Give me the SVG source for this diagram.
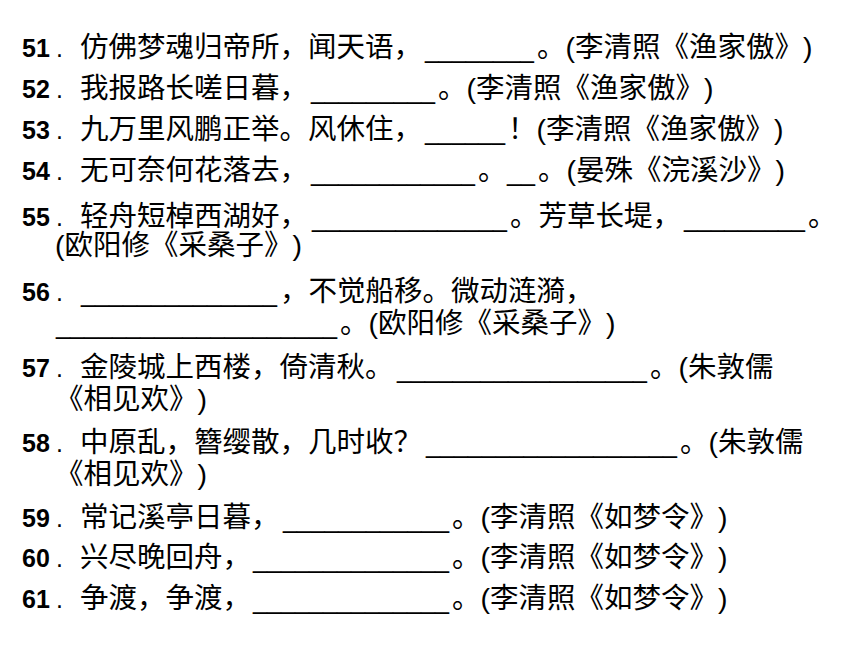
<svg xmlns="http://www.w3.org/2000/svg" width="860" height="645" viewBox="0 0 860 645">
<style>
text{text-spacing-trim:space-all;}
.t{font-family:"Liberation Sans","Noto Sans CJK SC",sans-serif;font-size:28.5px;fill:#000;}
.n{font-family:"Liberation Sans",sans-serif;font-size:25px;font-weight:bold;fill:#000;}
.d{font-family:"Liberation Sans",sans-serif;font-size:25px;fill:#000;}
</style>
<rect width="860" height="645" fill="#fff"/>
<g id="q51">
<text class="n" x="22" y="57">51</text><text class="d" x="56" y="57">.</text>
<text class="t" y="57"><tspan x="425" textLength="109" lengthAdjust="spacingAndGlyphs">________</tspan></text>
<text class="t" y="57"><tspan x="80">仿佛梦魂归帝所，闻天语，</tspan></text>
<text class="t" x="537" y="57">。(李清照《渔家傲》)</text>
</g>
<g id="q52">
<text class="n" x="22" y="98">52</text><text class="d" x="56" y="98">.</text>
<text class="t" x="80" y="98">我报路长嗟日暮，</text>
<text class="t" y="98"><tspan x="311" textLength="124" lengthAdjust="spacingAndGlyphs">_________</tspan></text>
<text class="t" x="438" y="98">。(李清照《渔家傲》)</text>
</g>
<g id="q53">
<text class="n" x="22" y="139">53</text><text class="d" x="56" y="139">.</text>
<text class="t" x="80" y="139">九万里风鹏正举。风休住，</text>
<text class="t" y="139"><tspan x="425" textLength="80" lengthAdjust="spacingAndGlyphs">______</tspan></text>
<text class="t" x="508" y="139">！(李清照《渔家傲》)</text>
</g>
<g id="q54">
<text class="n" x="22" y="180">54</text><text class="d" x="56" y="180">.</text>
<text class="t" x="80" y="180">无可奈何花落去，</text>
<text class="t" y="180"><tspan x="311" textLength="164" lengthAdjust="spacingAndGlyphs">____________</tspan></text>
<text class="t" x="478" y="180">。</text>
<text class="t" y="180"><tspan x="507" textLength="28" lengthAdjust="spacingAndGlyphs">__</tspan></text>
<text class="t" x="538" y="180">。(晏殊《浣溪沙》)</text>
</g>
<g id="q55">
<text class="n" x="22" y="226">55</text><text class="d" x="56" y="226">.</text>
<text class="t" x="80" y="226">轻舟短棹西湖好，</text>
<text class="t" y="226"><tspan x="312" textLength="195" lengthAdjust="spacingAndGlyphs">______________</tspan></text>
<text class="t" x="510" y="226">。芳草长堤，</text>
<text class="t" y="226"><tspan x="684" textLength="121" lengthAdjust="spacingAndGlyphs">_________</tspan></text>
<text class="t" x="808" y="226">。</text>
<text class="t" x="55" y="255">(欧阳修《采桑子》)</text>
</g>
<g id="q56">
<text class="n" x="22" y="301">56</text><text class="d" x="56" y="301">.</text>
<text class="t" y="301"><tspan x="81" textLength="196" lengthAdjust="spacingAndGlyphs">______________</tspan></text>
<text class="t" x="280" y="301">，不觉船移。微动涟漪，</text>
<text class="t" y="333"><tspan x="56" textLength="281" lengthAdjust="spacingAndGlyphs">____________________</tspan></text>
<text class="t" x="340" y="333">。(欧阳修《采桑子》)</text>
</g>
<g id="q57">
<text class="n" x="22" y="377">57</text><text class="d" x="56" y="377">.</text>
<text class="t" x="80" y="377">金陵城上西楼，倚清秋。</text>
<text class="t" y="377"><tspan x="397" textLength="250" lengthAdjust="spacingAndGlyphs">__________________</tspan></text>
<text class="t" x="650" y="377">。(朱敦儒</text>
<text class="t" x="55" y="409">《相见欢》)</text>
</g>
<g id="q58">
<text class="n" x="22" y="452">58</text><text class="d" x="56" y="452">.</text>
<text class="t" x="80" y="452">中原乱，簪缨散，几时收？</text>
<text class="t" y="452"><tspan x="426" textLength="251" lengthAdjust="spacingAndGlyphs">__________________</tspan></text>
<text class="t" x="680" y="452">。(朱敦儒</text>
<text class="t" x="55" y="484">《相见欢》)</text>
</g>
<g id="q59">
<text class="n" x="22" y="527">59</text><text class="d" x="56" y="527">.</text>
<text class="t" x="80" y="527">常记溪亭日暮，</text>
<text class="t" y="527"><tspan x="283" textLength="166" lengthAdjust="spacingAndGlyphs">____________</tspan></text>
<text class="t" x="452" y="527">。(李清照《如梦令》)</text>
</g>
<g id="q60">
<text class="n" x="22" y="567">60</text><text class="d" x="56" y="567">.</text>
<text class="t" x="80" y="567">兴尽晚回舟，</text>
<text class="t" y="567"><tspan x="253" textLength="196" lengthAdjust="spacingAndGlyphs">______________</tspan></text>
<text class="t" x="452" y="567">。(李清照《如梦令》)</text>
</g>
<g id="q61">
<text class="n" x="22" y="608">61</text><text class="d" x="56" y="608">.</text>
<text class="t" x="80" y="608">争渡，争渡，</text>
<text class="t" y="608"><tspan x="253" textLength="196" lengthAdjust="spacingAndGlyphs">______________</tspan></text>
<text class="t" x="452" y="608">。(李清照《如梦令》)</text>
</g>
</svg>
